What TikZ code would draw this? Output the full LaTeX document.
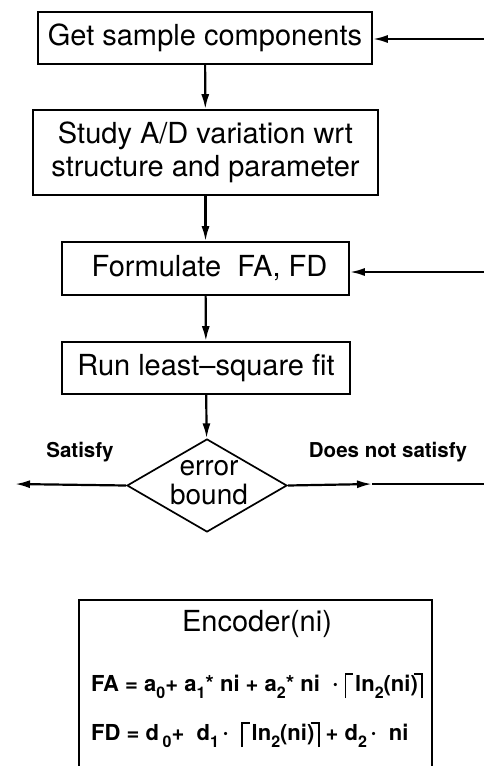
\documentclass[tikz,border=0pt]{standalone}
\usepackage{fontspec}
\setmainfont{TeX Gyre Heros}
\usetikzlibrary{arrows.meta,shapes.geometric}

\newcommand{\lowsub}[1]{\raisebox{-0.32em}{\fontsize{16}{16}\selectfont #1}}
% ceiling brackets built from rules
\newcommand{\lceilbar}{\rule[-0.3em]{0.085em}{1.12em}\rlap{\rule[0.735em]{0.32em}{0.085em}}\hspace{0.4em}}
\newcommand{\rceilbar}{\hspace{0.15em}\llap{\rule[0.735em]{0.32em}{0.085em}}\rule[-0.3em]{0.085em}{1.12em}}
\newcommand{\ceilln}{\lceilbar ln\lowsub{2}(ni)\rceilbar}
\newcommand{\mdot}{\raisebox{0.05em}{·}}

\begin{document}
\begin{tikzpicture}[x=1pt,y=-1pt,
  box/.style={draw,line width=1.7pt,inner sep=0pt,align=center,
              font=\fontsize{29}{33}\selectfont},
  flow/.style={line width=2.2pt,-{Latex[length=15pt,width=8pt]}},
  plain/.style={line width=2.2pt},
  lbl/.style={font=\fontsize{20.5}{24}\selectfont\bfseries},
  formula/.style={anchor=west,inner sep=0pt,font=\fontsize{22}{26}\selectfont\bfseries},
]
\useasboundingbox (0,0) rectangle (484,766);
\clip (0,0) rectangle (484,766);

% process steps
\node[box,minimum width=334pt,minimum height=52pt] (get) at (205,38) {Get sample components};
\node[box,minimum width=345pt,minimum height=85pt] (study) at (205.5,152.5)
  {Study A/D variation wrt\\structure and parameter};
\node[box,minimum width=287pt,minimum height=53pt] (form) at (205.5,268.5) {\ Formulate\ \ FA, FD};
\node[box,minimum width=288pt,minimum height=52pt] (fit) at (206,368) {Run least--square fit};

% decision
\node[draw,diamond,line width=1.7pt,minimum width=160pt,minimum height=93pt,inner sep=0pt] (dec) at (207,485.5) {};
\node[font=\fontsize{28}{29}\selectfont,align=center,inner sep=0pt] (dectext) at (209,483) {error\\bound};

% vertical flow
\draw[flow] (get) -- (study);
\draw[flow] (study) -- (form);
\draw[flow] (form) -- (fit);
\draw[flow] (fit) -- (dec);

% feedback entries from the right
\coordinate (back1) at (484,39);
\coordinate (back3) at (484,272);
\draw[flow] (back1) -- (back1 -| get.east);
\draw[flow] (back3) -- (back3 -| form.east);

% decision exits
\coordinate (outL) at (15,484);
\coordinate (midR) at (372,484);
\coordinate (outR) at (484,484);
\draw[flow] (dec.west) -- (outL);
\draw[flow] (dec.east) -- (midR);
\draw[plain] (midR) -- (outR);
\node[lbl] (sat) at (80,452) {Satisfy};
\node[lbl] (nsat) at (388,452) {Does not satisfy};

% encoder model
\node[draw,line width=1.7pt,minimum width=353pt,minimum height=190pt,inner sep=0pt] (enc) at (255.5,695) {};
\node[font=\fontsize{29}{33}\selectfont] (enctitle) at (257,624) {Encoder(ni)};
\node[formula] (fa) at (91,686)
  {FA = a\lowsub{0}+ a\lowsub{1}* ni + a\lowsub{2}* ni \ \mdot\ \ceilln};
\node[formula] (fd) at (91,735)
  {FD = d\,\lowsub{0}+\ \ d\lowsub{1}\,\mdot\ \ \ceilln\ + d\lowsub{2}\,\mdot\ \ ni};
\end{tikzpicture}
\end{document}
